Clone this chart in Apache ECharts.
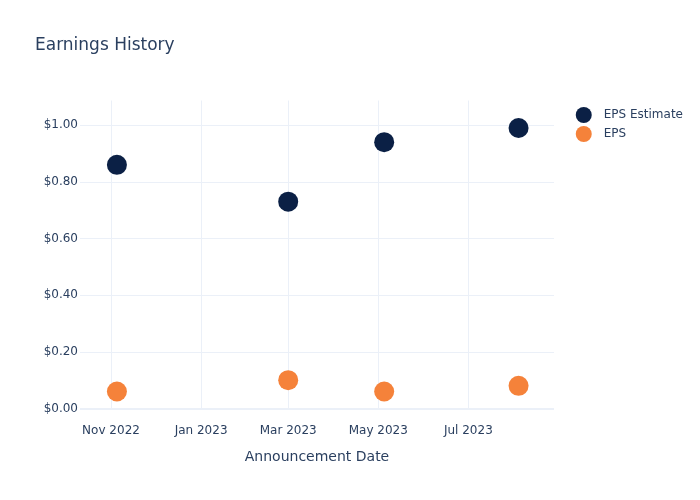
<!DOCTYPE html>
<html><head><meta charset="utf-8">
<script src="https://cdn.jsdelivr.net/npm/echarts@6/dist/echarts.min.js"></script>
<style>html,body{margin:0;padding:0;background:#fff}#c{width:700px;height:500px}</style>
</head><body><div id="c"></div>
<script>
const dates = ['2022-11-05', '2023-03-01', '2023-05-05', '2023-08-04'];
const epsEstimate = [0.86, 0.73, 0.94, 0.99];
const eps = [0.06, 0.10, 0.06, 0.08];
const xTicks = ['2022-11-01', '2023-01-01', '2023-03-01', '2023-05-01', '2023-07-01'];
const yTicks = [0, 0.2, 0.4, 0.6, 0.8, 1.0];
const xRange = ['2022-10-11', '2023-08-28'];
const yRange = [0, 1.087];

const MONTHS = ['Jan','Feb','Mar','Apr','May','Jun','Jul','Aug','Sep','Oct','Nov','Dec'];
const ts = s => { const p = s.split('-').map(Number); return Date.UTC(p[0], p[1]-1, p[2]); };
const font = 'DejaVu Sans';
const txt = '#2a3f5f';
const grid = '#EBF0F8';

const chart = echarts.init(document.getElementById('c'), null, {renderer: 'canvas'});
chart.setOption({
  animation: false,
  backgroundColor: '#fff',
  textStyle: {fontFamily: font},
  title: {text: 'Earnings History', left: 30, top: 32,
    textStyle: {fontFamily: font, fontSize: 17, fontWeight: 'normal', color: txt}},
  legend: {data: ['EPS Estimate', 'EPS'], orient: 'vertical', right: 17, top: 107, padding: 0,
    itemGap: 3, itemWidth: 30, itemHeight: 16,
    icon: 'circle', textStyle: {fontFamily: font, fontSize: 12, color: txt}},
  grid: {left: 80, right: 146, top: 100.5, bottom: 91.5, containLabel: false},
  xAxis: {
    type: 'value', scale: true,
    min: ts(xRange[0]), max: ts(xRange[1]),
    name: 'Announcement Date', nameLocation: 'middle', nameGap: 42,
    nameTextStyle: {fontFamily: font, fontSize: 14, color: txt},
    axisLine: {show: false},
    axisTick: {show: false, customValues: xTicks.map(ts)},
    axisLabel: {customValues: xTicks.map(ts), color: txt, fontSize: 12, fontFamily: font, margin: 16,
      formatter: v => { const d = new Date(v); return MONTHS[d.getUTCMonth()] + ' ' + d.getUTCFullYear(); }},
    splitLine: {show: true, lineStyle: {color: grid, width: 1}}
  },
  yAxis: {
    type: 'value', min: yRange[0], max: yRange[1],
    axisLine: {show: false},
    axisTick: {show: false, customValues: yTicks},
    axisLabel: {customValues: yTicks, color: txt, fontSize: 12, fontFamily: font, margin: 2,
      formatter: v => '$' + v.toFixed(2)},
    splitLine: {show: true, lineStyle: {color: grid, width: 1}}
  },
  series: [
    {name: 'EPS Estimate', type: 'scatter', symbolSize: 20,
      itemStyle: {color: '#0b2045', opacity: 1},
      data: dates.map((d, i) => [ts(d), epsEstimate[i]]),
      markLine: {silent: true, symbol: 'none', label: {show: false},
        lineStyle: {color: grid, width: 2, type: 'solid'}, data: [{yAxis: 0}]}},
    {name: 'EPS', type: 'scatter', symbolSize: 20,
      itemStyle: {color: '#f5823a', opacity: 1},
      data: dates.map((d, i) => [ts(d), eps[i]])}
  ]
});
</script></body></html>
